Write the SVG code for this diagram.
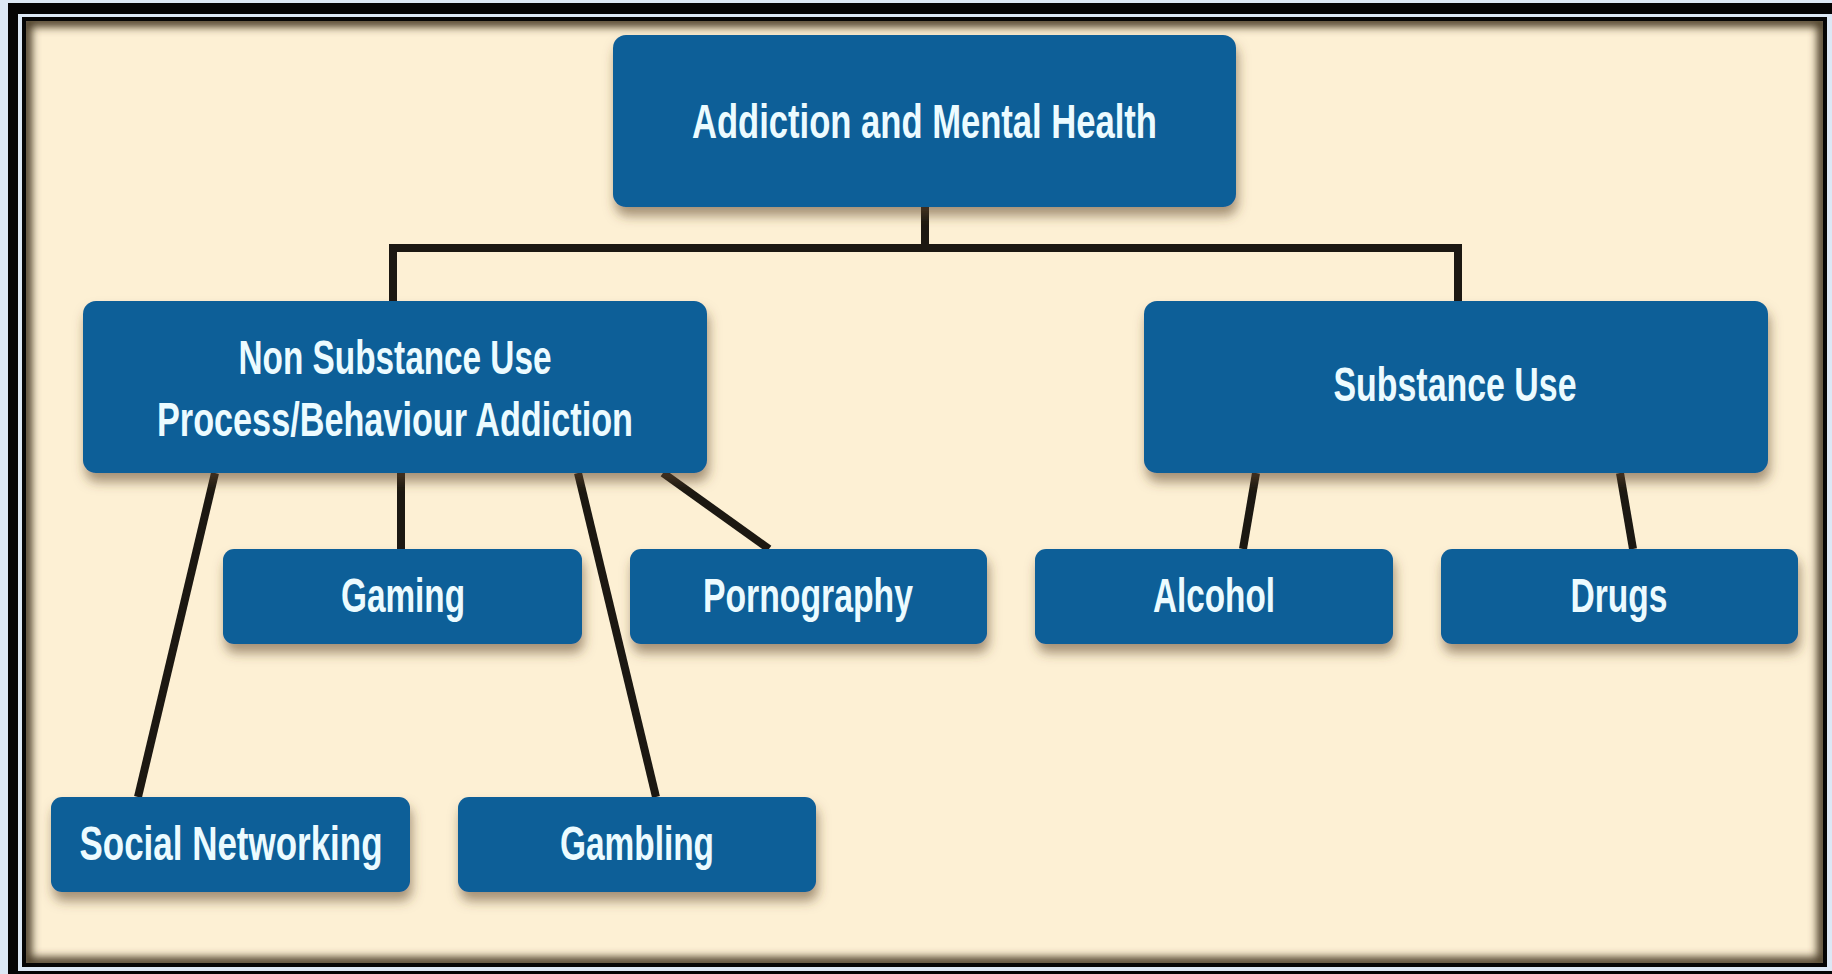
<svg xmlns="http://www.w3.org/2000/svg" width="1832" height="974" viewBox="0 0 1832 974">
  <style>
    .node rect { fill: #0a5f98; filter: url(#nodeShadow); }
    .node text { font-family: "Liberation Sans", Arial, sans-serif; font-weight: bold; font-size: 49px; fill: #ecfbff; text-anchor: middle; }
    .link { fill: none; stroke: #1c1812; stroke-width: 8; stroke-linecap: butt; stroke-linejoin: miter; }
  </style>
  <defs>
    <filter id="nodeShadow" x="-10%" y="-20%" width="125%" height="150%">
      <feDropShadow dx="2" dy="9" stdDeviation="6" flood-color="#5b4526" flood-opacity="0.55"/>
    </filter>
    <filter id="edgeBlur" x="-5%" y="-5%" width="110%" height="110%">
      <feGaussianBlur stdDeviation="4"/>
    </filter>
    <clipPath id="panelClip">
      <rect x="26" y="21" width="1797" height="942"/>
    </clipPath>
  </defs>

  <!-- frame -->
  <rect x="0" y="0" width="1832" height="974" fill="#dce8f5"/>
  <path d="M8,974 V3 H1832 V14 H18 V974 Z" fill="#050505"/>
  <rect x="8" y="971" width="1824" height="3" fill="#050505"/>
  <rect x="22" y="17" width="1805" height="950" fill="#050505"/>
  <rect x="26" y="21" width="1797" height="942" fill="#fdf0d4"/>
  <g clip-path="url(#panelClip)">
    <rect x="26" y="21" width="1797" height="942" fill="none" stroke="#4d3f2b" stroke-width="12" filter="url(#edgeBlur)"/>
  </g>

  <!-- connectors -->
  <g id="connectors">
    <path class="link" d="M925,207 V248"/>
    <path class="link" d="M393,301 V248 H1458 V301"/>
    <path class="link" d="M215,473 L138,797"/>
    <path class="link" d="M401,473 V549"/>
    <path class="link" d="M578,473 L656,797"/>
    <path class="link" d="M663,473 L769,549"/>
    <path class="link" d="M1256,473 L1243,549"/>
    <path class="link" d="M1620,473 L1633,549"/>
  </g>

  <!-- nodes -->
  <g id="node-root" class="node">
    <rect x="613" y="35" width="623" height="172" rx="13"/>
    <text x="924.5" y="138" textLength="465" lengthAdjust="spacingAndGlyphs">Addiction and Mental Health</text>
  </g>
  <g id="node-non-substance" class="node">
    <rect x="83" y="301" width="624" height="172" rx="13"/>
    <text x="395" y="374" textLength="313" lengthAdjust="spacingAndGlyphs">Non Substance Use</text>
    <text x="395" y="436" textLength="476" lengthAdjust="spacingAndGlyphs">Process/Behaviour Addiction</text>
  </g>
  <g id="node-substance" class="node">
    <rect x="1144" y="301" width="624" height="172" rx="13"/>
    <text x="1455" y="401" textLength="243" lengthAdjust="spacingAndGlyphs">Substance Use</text>
  </g>
  <g id="node-gaming" class="node">
    <rect x="223" y="549" width="359" height="95" rx="11"/>
    <text x="403" y="612" textLength="124" lengthAdjust="spacingAndGlyphs">Gaming</text>
  </g>
  <g id="node-pornography" class="node">
    <rect x="630" y="549" width="357" height="95" rx="11"/>
    <text x="808" y="612" textLength="210" lengthAdjust="spacingAndGlyphs">Pornography</text>
  </g>
  <g id="node-alcohol" class="node">
    <rect x="1035" y="549" width="358" height="95" rx="11"/>
    <text x="1214" y="612" textLength="122" lengthAdjust="spacingAndGlyphs">Alcohol</text>
  </g>
  <g id="node-drugs" class="node">
    <rect x="1441" y="549" width="357" height="95" rx="11"/>
    <text x="1619" y="612" textLength="97" lengthAdjust="spacingAndGlyphs">Drugs</text>
  </g>
  <g id="node-social" class="node">
    <rect x="51" y="797" width="359" height="95" rx="11"/>
    <text x="231" y="860" textLength="303" lengthAdjust="spacingAndGlyphs">Social Networking</text>
  </g>
  <g id="node-gambling" class="node">
    <rect x="458" y="797" width="358" height="95" rx="11"/>
    <text x="637" y="860" textLength="154" lengthAdjust="spacingAndGlyphs">Gambling</text>
  </g>
</svg>
